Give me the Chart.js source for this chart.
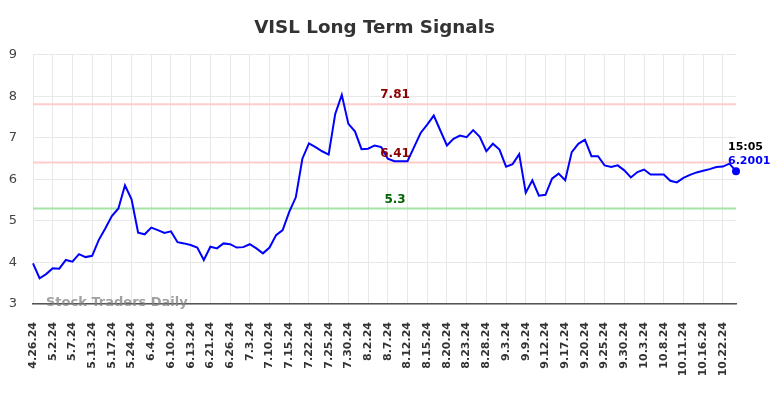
<!DOCTYPE html>
<html>
<head>
<meta charset="utf-8">
<script src="https://cdn.jsdelivr.net/npm/chart.js@4/dist/chart.umd.min.js"></script>
<style>
  html, body { margin: 0; padding: 0; background: #fff; }
  #wrap { width: 784px; height: 398px; }
</style>
</head>
<body>
<div id="wrap"><canvas id="chartSignals"></canvas></div>
<script>
// dates of each point; only every 3rd one is printed on the axis
const dates = [
  '4.26.24', '4.29.24', '4.30.24', '5.2.24', '5.3.24', '5.6.24',
  '5.7.24', '5.8.24', '5.10.24', '5.13.24', '5.14.24', '5.15.24',
  '5.17.24', '5.20.24', '5.22.24', '5.24.24', '5.28.24', '5.31.24',
  '6.4.24', '6.5.24', '6.7.24', '6.10.24', '6.11.24', '6.12.24',
  '6.13.24', '6.14.24', '6.18.24', '6.21.24', '6.24.24', '6.25.24',
  '6.26.24', '6.27.24', '7.1.24', '7.3.24', '7.5.24', '7.9.24',
  '7.10.24', '7.11.24', '7.12.24', '7.15.24', '7.16.24', '7.18.24',
  '7.22.24', '7.23.24', '7.24.24', '7.25.24', '7.26.24', '7.29.24',
  '7.30.24', '7.31.24', '8.1.24', '8.2.24', '8.5.24', '8.6.24',
  '8.7.24', '8.8.24', '8.9.24', '8.12.24', '8.13.24', '8.14.24',
  '8.15.24', '8.16.24', '8.19.24', '8.20.24', '8.21.24', '8.22.24',
  '8.23.24', '8.26.24', '8.27.24', '8.28.24', '8.29.24', '8.30.24',
  '9.3.24', '9.4.24', '9.6.24', '9.9.24', '9.10.24', '9.11.24',
  '9.12.24', '9.13.24', '9.16.24', '9.17.24', '9.18.24', '9.19.24',
  '9.20.24', '9.23.24', '9.24.24', '9.25.24', '9.26.24', '9.27.24',
  '9.30.24', '10.1.24', '10.2.24', '10.3.24', '10.4.24', '10.7.24',
  '10.8.24', '10.9.24', '10.10.24', '10.11.24', '10.14.24', '10.15.24',
  '10.16.24', '10.17.24', '10.18.24', '10.22.24', '10.23.24', '10.24.24'
];

const prices = [
  3.98, 3.62, 3.72, 3.86, 3.85, 4.06, 4.02, 4.20, 4.13, 4.16, 4.54, 4.82,
  5.12, 5.30, 5.86, 5.52, 4.72, 4.68, 4.84, 4.78, 4.71, 4.75, 4.49, 4.46,
  4.42, 4.36, 4.06, 4.38, 4.34, 4.46, 4.44, 4.36, 4.37, 4.44, 4.34, 4.22,
  4.36, 4.66, 4.78, 5.22, 5.57, 6.50, 6.87, 6.78, 6.68, 6.60, 7.58, 8.04,
  7.34, 7.16, 6.73, 6.74, 6.82, 6.78, 6.50, 6.44, 6.44, 6.44, 6.78, 7.12,
  7.32, 7.54, 7.18, 6.82, 6.98, 7.06, 7.02, 7.19, 7.03, 6.68, 6.86, 6.72,
  6.31, 6.37, 6.61, 5.68, 5.98, 5.61, 5.63, 6.02, 6.14, 5.98, 6.66, 6.86,
  6.96, 6.56, 6.56, 6.34, 6.30, 6.34, 6.22, 6.05, 6.18, 6.24, 6.12, 6.12,
  6.12, 5.97, 5.93, 6.04, 6.11, 6.17, 6.21, 6.25, 6.30, 6.31, 6.38, 6.2001
];

const yTicks = [3, 4, 5, 6, 7, 8, 9];

// signal levels
const signalValues = [7.81, 6.41, 5.3];
const signalLabels = ['7.81', '6.41', '5.3'];
const signalLineColors = ['#ffcccc', '#ffcccc', '#a6e3a6'];
const signalTextColors = ['#8b0000', '#8b0000', '#006400'];

const lastTime = '15:05';
const lastLabel = '6.2001';

const FONT = '"DejaVu Sans", sans-serif';

const signalPlugin = {
  id: 'signals',
  beforeDatasetsDraw(chart) {
    const { ctx, chartArea } = chart;
    const y = chart.scales.y;
    ctx.save();
    ctx.lineWidth = 2;
    signalValues.forEach((v, i) => {
      const py = y.getPixelForValue(v);
      ctx.strokeStyle = signalLineColors[i];
      ctx.beginPath();
      ctx.moveTo(chartArea.left, py);
      ctx.lineTo(chartArea.right, py);
      ctx.stroke();
    });
    ctx.restore();
  },
  afterDatasetsDraw(chart) {
    const { ctx, chartArea } = chart;
    const x = chart.scales.x;
    const y = chart.scales.y;
    ctx.save();
    // level labels
    ctx.font = 'bold 12px ' + FONT;
    ctx.textAlign = 'center';
    ctx.textBaseline = 'bottom';
    const cx = chartArea.left + (chartArea.right - chartArea.left) * 0.515;
    signalValues.forEach((v, i) => {
      ctx.fillStyle = signalTextColors[i];
      ctx.fillText(signalLabels[i], cx, y.getPixelForValue(v) - 3);
    });

    // last point marker + text
    const li = prices.length - 1;
    const px = x.getPixelForValue(li);
    const py = y.getPixelForValue(prices[li]);
    ctx.fillStyle = '#0000ff';
    ctx.beginPath();
    ctx.arc(px, py, 4, 0, Math.PI * 2);
    ctx.fill();
    ctx.font = 'bold 11px ' + FONT;
    ctx.textAlign = 'left';
    ctx.textBaseline = 'alphabetic';
    ctx.fillStyle = '#000';
    ctx.fillText(lastTime, px - 8, py - 21);
    ctx.fillStyle = '#0000ff';
    ctx.fillText(lastLabel, px - 8, py - 7);

    // watermark
    ctx.font = 'bold 13px ' + FONT;
    ctx.fillStyle = 'rgba(128,128,128,0.75)';
    ctx.textBaseline = 'middle';
    ctx.fillText('Stock Traders Daily', chartArea.left + 13, chartArea.bottom - 1);
    ctx.restore();
  }
};

const ctx = document.getElementById('chartSignals').getContext('2d');
new Chart(ctx, {
  type: 'line',
  data: {
    labels: dates,
    datasets: [{
      data: prices,
      borderColor: '#0000ff',
      borderWidth: 2,
      pointRadius: 0,
      tension: 0,
      fill: false
    }]
  },
  options: {
    responsive: true,
    maintainAspectRatio: false,
    animation: false,
    layout: { padding: { left: 0, right: 35, top: 0, bottom: 0 } },
    plugins: {
      legend: { display: false },
      tooltip: { enabled: false },
      title: {
        display: true,
        text: 'VISL Long Term Signals',
        color: '#333',
        font: { family: FONT, size: 18.3, weight: 'bold' },
        padding: { top: 17, bottom: 16 }
      }
    },
    scales: {
      x: {
        afterFit(scale) { scale.height = 94; },
        grid: { color: '#e8e8e8', drawTicks: false },
        border: { color: '#555', width: 1.5 },
        ticks: {
          autoSkip: false,
          minRotation: 90,
          maxRotation: 90,
          padding: 18,
          color: '#333',
          font: { family: FONT, size: 11, weight: 'bold' },
          callback: (v, i) => (i % 3 === 0 ? dates[i] : null)
        }
      },
      y: {
        min: 3,
        max: 9,
        afterFit(scale) { scale.width = 33; },
        afterBuildTicks(scale) { scale.ticks = yTicks.map(v => ({ value: v })); },
        grid: { color: '#e8e8e8', drawTicks: false },
        border: { display: false },
        ticks: {
          padding: 16,
          color: '#444',
          font: { family: FONT, size: 13 }
        }
      },
      // empty spacer on the right, keeps the title centred like the original
      yRight: {
        position: 'right',
        min: 3,
        max: 9,
        afterFit(scale) { scale.width = 13; },
        grid: { display: false },
        border: { display: false },
        ticks: { display: false }
      }
    }
  },
  plugins: [signalPlugin]
});
</script>
</body>
</html>
